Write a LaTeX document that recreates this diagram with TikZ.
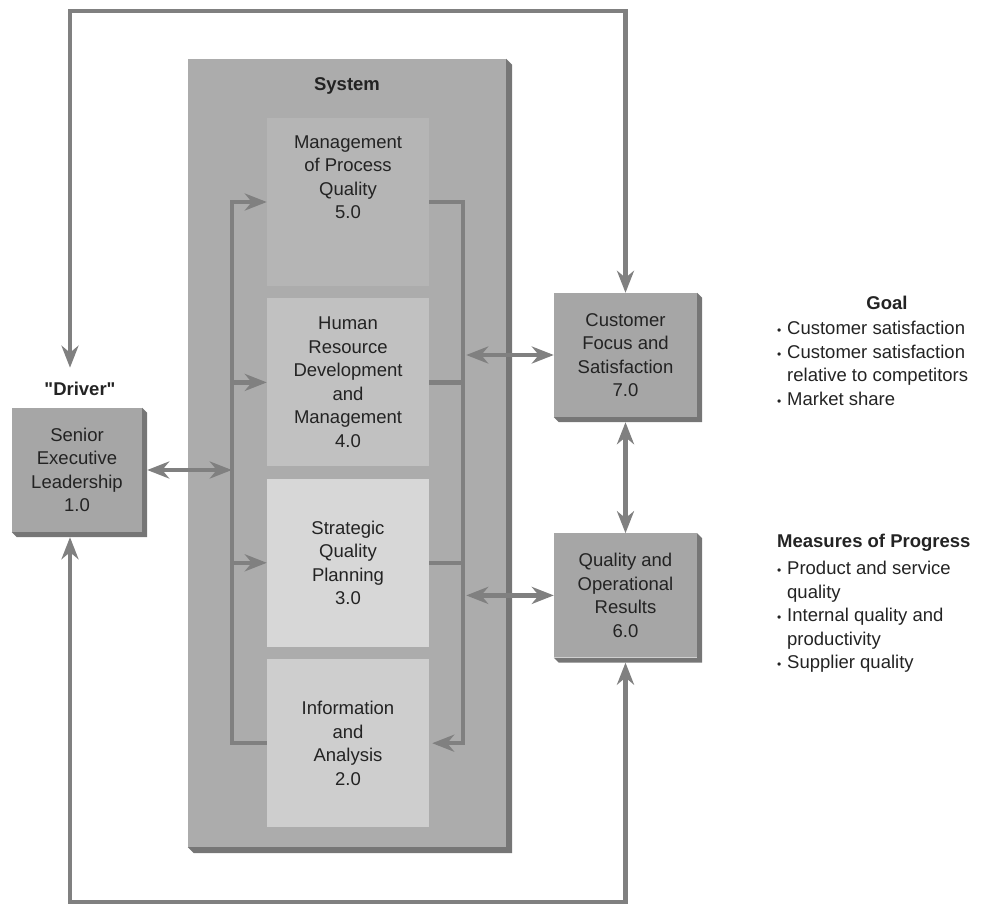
\documentclass[tikz,border=0pt]{standalone}
\usepackage{fontspec}
\setmainfont{Liberation Sans}
\usetikzlibrary{arrows.meta,positioning}

\definecolor{linegray}{RGB}{128,128,128}
\definecolor{boxgray}{RGB}{166,166,166}
\definecolor{bevgray}{RGB}{118,118,118}
\definecolor{sysgray}{RGB}{172,172,172}
\definecolor{mgmtgray}{RGB}{181,181,181}
\definecolor{hrdgray}{RGB}{193,193,193}
\definecolor{plangray}{RGB}{215,215,215}
\definecolor{infogray}{RGB}{206,206,206}
\definecolor{txtgray}{RGB}{35,35,35}

\newcommand{\bul}{\makebox[10pt][l]{\fontsize{12}{12}\selectfont\textbullet}}

\begin{document}
\begin{tikzpicture}[
  x=1pt, y=-1pt,
  >={Stealth[length=22pt,width=17pt,inset=7pt]},
  font=\fontsize{18.5}{23.5}\selectfont, text=txtgray,
  node distance=12pt,
  head/.style={font=\fontsize{18.5}{23.5}\selectfont\bfseries},
  block/.style={fill=boxgray, minimum width=143pt, minimum height=124pt,
                align=center, inner sep=2pt},
  inner/.style={minimum width=162pt, minimum height=168pt,
                align=center, inner sep=2pt},
  flow/.style={draw=linegray, line width=4.5pt},
  arr/.style={->, flow},
  dbl/.style={<->, flow},
]
  \useasboundingbox (0,0) rectangle (989,906);

  %% System frame
  \node[fill=sysgray, minimum width=318pt, minimum height=788pt,
        inner sep=0pt] (sysbox) at (347,453) {};
  \node[head] (systitle) at (347,86) {System};

  %% Categories inside the system
  \node[inner, fill=mgmtgray,
        label={[align=center, yshift=25pt]center:Management\\of Process\\Quality\\5.0}]
        (mgmt) at (348,202) {};
  \node[inner, fill=hrdgray,  below=of mgmt] (hrd)
    {Human\\Resource\\Development\\and\\Management\\4.0};
  \node[inner, fill=plangray, below=of hrd]  (plan)
    {Strategic\\Quality\\Planning\\3.0};
  \node[inner, fill=infogray, below=of plan] (info)
    {Information\\and\\Analysis\\2.0};

  %% Driver and results
  \node[block, minimum width=130pt] (senior) at (77,470)
    {Senior\\Executive\\Leadership\\1.0};
  \node[head] (driver) at (80,389) {\textquotedbl Driver\textquotedbl};
  \node[block] (cust) at (625.5,355)
    {Customer\\Focus and\\Satisfaction\\7.0};
  \node[block, below=116pt of cust] (qual)
    {Quality and\\Operational\\Results\\6.0};

  %% 3-D edges
  \foreach \n/\d in {sysbox/6, senior/5, cust/5, qual/5}
    \fill[bevgray] (\n.north east) -- ++(\d,\d)
      -- ([shift={(\d,\d)}]\n.south east) -- ([shift={(\d,\d)}]\n.south west)
      -- (\n.south west) -- (\n.south east) -- cycle;

  %% Goal and measures
  \node[head] (goal) at (887,303) {Goal};
  \node[anchor=north west, align=left, inner sep=0pt] (goallist) at (777,321)
    {\bul Customer satisfaction\\
     \bul Customer satisfaction\\
     \hspace*{10pt}relative to competitors\\
     \bul Market share};
  \node[head, anchor=west, inner sep=0pt] (meas) at (777,543)
    {Measures of Progress};
  \node[anchor=north west, align=left, inner sep=0pt] (measlist) at (777,561)
    {\bul Product and service\\
     \hspace*{10pt}quality\\
     \bul Internal quality and\\
     \hspace*{10pt}productivity\\
     \bul Supplier quality};

  %% Bus lines inside the system
  \coordinate (lt) at ([xshift=-35pt]mgmt.west);
  \coordinate (rt) at ([xshift=34pt]mgmt.east);
  \draw[arr] (info.west) -| (lt) -- (mgmt.west);
  \draw[arr] (mgmt.east) -- (rt) |- ([xshift=3pt]info.east);
  \draw[arr] (lt |- hrd.west)  -- (hrd.west);
  \draw[arr] (lt |- plan.west) -- (plan.west);
  \draw[flow] (hrd.east)  -- (rt |- hrd.east);
  \draw[flow] (plan.east) -- (rt |- plan.east);

  %% Links to the outside boxes
  \draw[dbl] ([xshift=5pt]senior.east) -- (lt |- senior.east);
  \draw[dbl] ([xshift=3pt]rt |- cust.west) -- (cust.west);
  \draw[dbl] ([xshift=3pt]rt |- qual.west) -- (qual.west);
  \draw[dbl] ([yshift=-5pt]cust.south) -- (qual.north);

  %% Outer feedback loops
  \coordinate (tl) at (70,11);
  \coordinate (bl) at (70,902);
  \draw[dbl] ([yshift=11pt]tl |- driver.north) -- (tl) -| (cust.north);
  \draw[dbl] ([yshift=-5pt]senior.south -| bl) -- (bl) -| ([yshift=-5pt]qual.south);
\end{tikzpicture}
\end{document}
